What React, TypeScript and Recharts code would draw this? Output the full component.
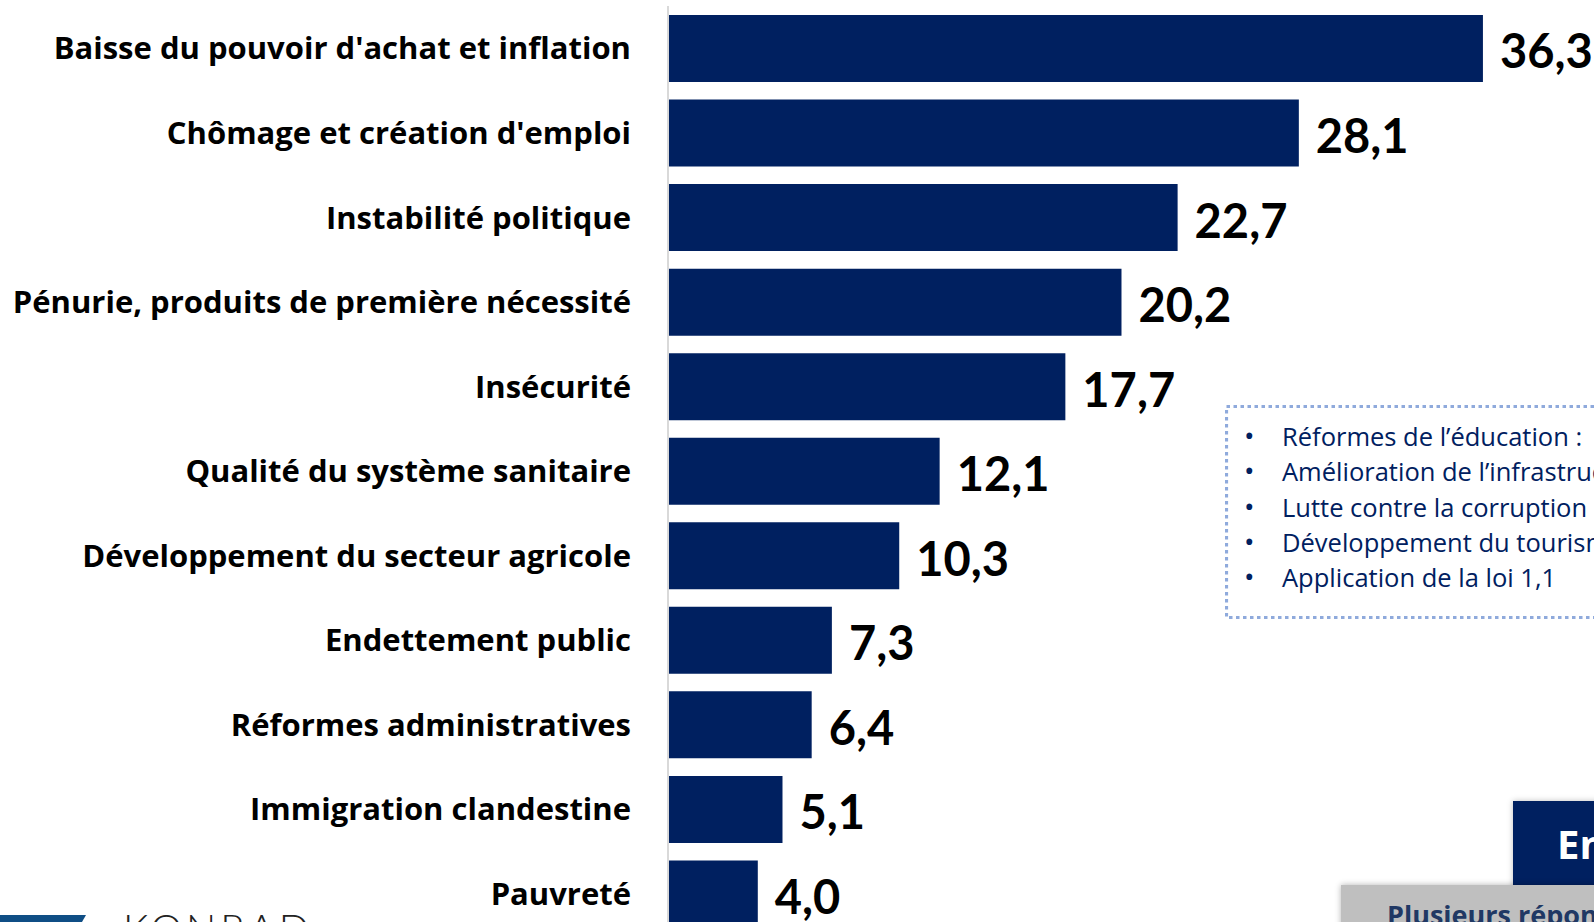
import React from 'react';
import { BarChart, Bar, XAxis, YAxis, LabelList } from 'recharts';

const categories = [
  "Baisse du pouvoir d'achat et inflation",
  "Chômage et création d'emploi",
  'Instabilité politique',
  'Pénurie, produits de première nécessité',
  'Insécurité',
  'Qualité du système sanitaire',
  'Développement du secteur agricole',
  'Endettement public',
  'Réformes administratives',
  'Immigration clandestine',
  'Pauvreté',
];

const values = [36.3, 28.1, 22.7, 20.2, 17.7, 12.1, 10.3, 7.3, 6.4, 5.1, 4.0];

const otherItems = [
  "Réformes de l’éducation :",
  "Amélioration de l’infrastructure",
  'Lutte contre la corruption',
  'Développement du tourisme',
  'Application de la loi 1,1',
];

const data = categories.map((name, i) => ({ name, value: values[i] }));

const NAVY = '#002060';
const FONT = '"Open Sans", Lato, sans-serif';
const NUM_FONT = 'Lato, "Open Sans", sans-serif';

const fmt = (v: number) => v.toFixed(1).replace('.', ',');

const CategoryTick = (props: any) => {
  const { y, payload } = props;
  return (
    <text
      x={631}
      y={y}
      dy="0.36em"
      textAnchor="end"
      fontFamily={FONT}
      fontWeight={700}
      fontSize={31}
      fill="#000"
    >
      {payload.value}
    </text>
  );
};

const ValueLabel = (props: any) => {
  const { x, y, width, height, value } = props;
  return (
    <text
      x={x + width + 17}
      y={y + height / 2 + 3}
      dy="0.36em"
      fontFamily={NUM_FONT}
      fontWeight={700}
      fontSize={47}
      fill="#000"
    >
      {fmt(value)}
    </text>
  );
};

export default function App() {
  return (
    <div
      style={{
        position: 'fixed',
        left: 0,
        top: 0,
        width: 1594,
        height: 922,
        overflow: 'hidden',
        background: '#fff',
        fontFamily: FONT,
      }}
    >
      <BarChart
        layout="vertical"
        width={1594}
        height={960}
        data={data}
        margin={{ top: 6, right: 28, left: 0, bottom: 24 }}
      >
        <XAxis type="number" domain={[0, 40]} hide />
        <YAxis
          type="category"
          dataKey="name"
          width={668}
          axisLine={{ stroke: '#D9D9D9', strokeWidth: 2 }}
          tickLine={false}
          tick={<CategoryTick />}
          interval={0}
        />
        <Bar dataKey="value" fill={NAVY} barSize={67} isAnimationActive={false}>
          <LabelList dataKey="value" content={<ValueLabel />} />
        </Bar>
      </BarChart>

      {/* other answers box */}
      <svg
        style={{ position: 'absolute', left: 1225, top: 405 }}
        width={420}
        height={215}
      >
        <rect
          x={1.5}
          y={1.5}
          width={440}
          height={211}
          fill="none"
          stroke="#8FAADC"
          strokeWidth={3.2}
          strokeDasharray="3.5 3.5"
        />
      </svg>
      {otherItems.map((t, i) => (
        <div
          key={t}
          style={{
            position: 'absolute',
            left: 1244,
            top: 435 + i * 35.3 - 17,
            height: 34,
            lineHeight: '34px',
            fontSize: 25.5,
            color: NAVY,
            whiteSpace: 'nowrap',
          }}
        >
          <span style={{ display: 'inline-block', width: 38, fontSize: 28 }}>•</span>
          {t}
        </div>
      ))}

      {/* bottom right boxes */}
      <div
        style={{
          position: 'absolute',
          left: 1513,
          top: 801,
          width: 200,
          height: 140,
          background: NAVY,
          boxShadow: '0 0 6px rgba(0,0,0,0.25)',
          color: '#fff',
          fontWeight: 700,
          fontSize: 40,
          lineHeight: '86px',
          paddingLeft: 44,
          whiteSpace: 'nowrap',
        }}
      >
        Ensemble
      </div>
      <div
        style={{
          position: 'absolute',
          left: 1341,
          top: 885,
          width: 400,
          height: 60,
          background: '#BFBFBF',
          boxShadow: '0 0 6px rgba(0,0,0,0.3)',
          color: '#203864',
          fontWeight: 700,
          fontSize: 27,
          lineHeight: '28px',
          paddingTop: 16,
          paddingLeft: 46,
          whiteSpace: 'nowrap',
          boxSizing: 'border-box',
        }}
      >
        Plusieurs réponses possibles
      </div>

      {/* logo */}
      <svg style={{ position: 'absolute', left: 0, top: 915 }} width={90} height={7}>
        <polygon points="0,0 86,0 82,7 0,7" fill="#0F4E85" />
      </svg>
      <div
        style={{
          position: 'absolute',
          left: 123,
          top: 908,
          fontFamily: NUM_FONT,
          fontSize: 40,
          fontWeight: 300,
          letterSpacing: 4,
          color: '#222',
          lineHeight: '40px',
          whiteSpace: 'nowrap',
        }}
      >
        KONRAD
      </div>
    </div>
  );
}
